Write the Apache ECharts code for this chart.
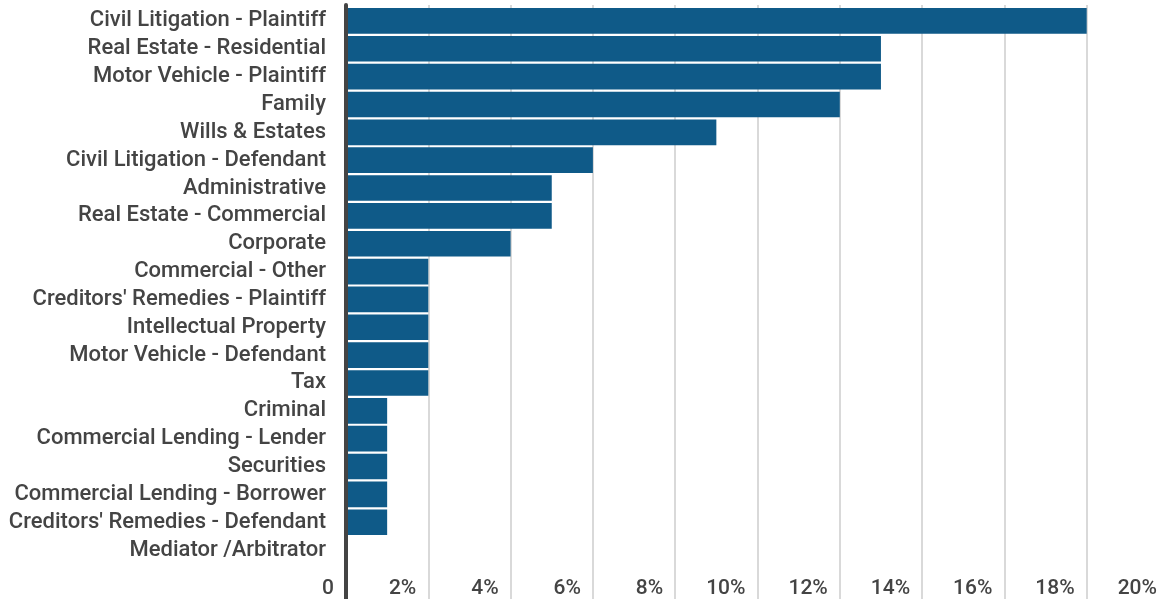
<!DOCTYPE html>
<html>
<head>
    <meta charset="utf-8">
    <script src="https://cdn.jsdelivr.net/npm/echarts@6/dist/echarts.min.js"></script>
    <style>
        html, body { margin: 0; padding: 0; background: #fff; }
        #main { width: 1165px; height: 599px; }
    </style>
</head>
<body>
<div id="main"></div>
<script>
    // practice areas, top to bottom
    var categories = [
        'Civil Litigation - Plaintiff', 'Real Estate - Residential', 'Motor Vehicle - Plaintiff',
        'Family', 'Wills & Estates', 'Civil Litigation - Defendant', 'Administrative',
        'Real Estate - Commercial', 'Corporate', 'Commercial - Other',
        "Creditors' Remedies - Plaintiff", 'Intellectual Property', 'Motor Vehicle - Defendant',
        'Tax', 'Criminal', 'Commercial Lending - Lender', 'Securities',
        'Commercial Lending - Borrower', "Creditors' Remedies - Defendant", 'Mediator /Arbitrator'
    ];
    // percent of respondents
    var values = [18, 13, 13, 12, 9, 6, 5, 5, 4, 2, 2, 2, 2, 2, 1, 1, 1, 1, 1, 0];
    var xMin = 0, xMax = 20, xStep = 2;

    var chart = echarts.init(document.getElementById('main'));
    var font = 'Roboto, "Noto Sans", sans-serif';

    var option = {
        animation: false,
        grid: [
            // bars
            { left: 346, width: 823, top: 7, height: 557, outerBoundsMode: 'none' },
            // gridlines, axis line and percent labels (run to the bottom edge)
            { left: 346, width: 823, top: 5, bottom: 0, outerBoundsMode: 'none' }
        ],
        xAxis: [
            { gridIndex: 0, type: 'value', min: xMin, max: xMax, interval: xStep, show: false },
            {
                gridIndex: 1, type: 'value', min: xMin, max: xMax, interval: xStep,
                axisLine: { show: false },
                axisTick: { show: false },
                splitLine: { show: true, lineStyle: { color: '#d9d9d9', width: 2 } },
                axisLabel: {
                    inside: true,
                    margin: 0,
                    align: 'right',
                    padding: [0, 12, 0, 0],
                    fontFamily: font,
                    fontSize: 21,
                    fontWeight: 500,
                    color: '#444',
                    showMaxLabel: true,
                    formatter: function (v) { return v === 0 ? '0' : v + '%'; }
                }
            }
        ],
        yAxis: [
            {
                gridIndex: 0, type: 'category', data: categories, inverse: true,
                axisLine: { show: false },
                axisTick: { show: false },
                splitLine: { show: false },
                axisLabel: {
                    interval: 0,
                    hideOverlap: false,
                    margin: 20,
                    padding: [2, 0, 0, 0],
                    fontFamily: font,
                    fontSize: 22,
                    fontWeight: 500,
                    color: '#444'
                }
            },
            {
                gridIndex: 1, type: 'value', z: 10,
                axisLine: { show: true, lineStyle: { color: '#444', width: 4 } },
                axisTick: { show: false },
                axisLabel: { show: false },
                splitLine: { show: false }
            }
        ],
        series: [
            {
                type: 'bar',
                xAxisIndex: 0,
                yAxisIndex: 0,
                data: values,
                barCategoryGap: '8%',
                itemStyle: { color: '#0f5a88' }
            }
        ]
    };
    chart.setOption(option);
</script>
</body>
</html>
